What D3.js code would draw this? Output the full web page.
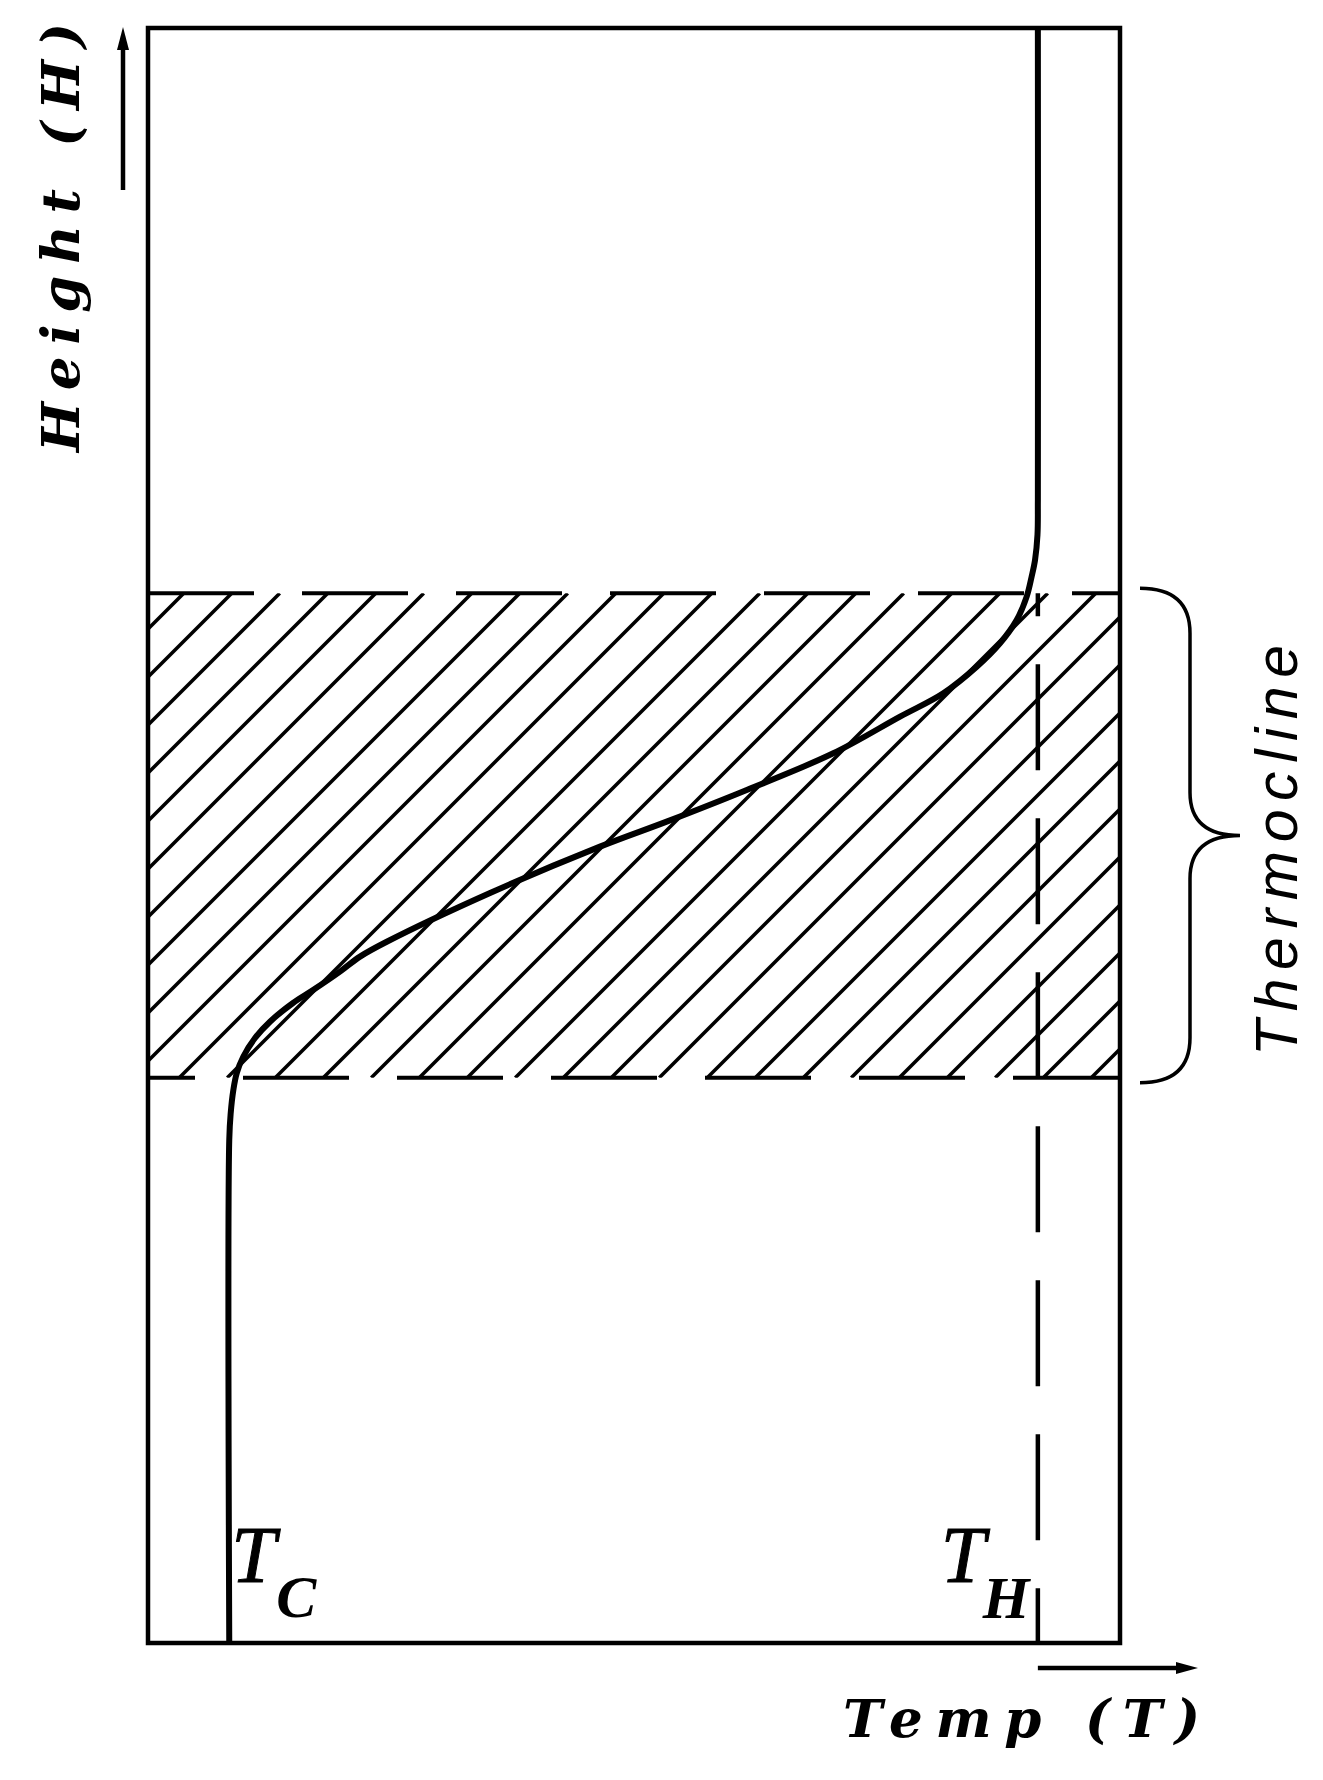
<!DOCTYPE html>
<html>

<head>
  <meta charset="utf8">
  <script src="https://d3js.org/d3.v7.min.js"></script>
  <style>
    body {
      margin: 0;
      background: #fff;
    }

    .frame {
      fill: none;
      stroke: #000;
      stroke-width: 4.5;
    }

    .hatch {
      stroke: #000;
      stroke-width: 3.5;
    }

    .band-edge {
      stroke: #000;
      stroke-width: 4;
      stroke-dasharray: 106, 48;
    }

    .hot-line {
      stroke: #000;
      stroke-width: 4.5;
      stroke-dasharray: 106, 48;
      stroke-dashoffset: 83;
    }

    .profile {
      fill: none;
      stroke: #000;
      stroke-width: 6;
    }

    .brace {
      fill: none;
      stroke: #000;
      stroke-width: 3.5;
    }

    .arrow {
      stroke: #000;
      stroke-width: 4.5;
    }

    .axis-label {
      font-family: "DejaVu Serif", serif;
      font-weight: bold;
      font-style: italic;
      font-size: 53px;
    }

    .band-label {
      font-family: "Liberation Sans", Arial, sans-serif;
      font-style: italic;
      font-size: 59px;
    }

    .temp-main {
      font-family: "Liberation Serif", serif;
      font-style: italic;
      font-size: 80px;
      stroke: #000;
      stroke-width: 1;
    }

    .temp-sub {
      font-family: "Liberation Serif", serif;
      font-weight: bold;
      font-style: italic;
      font-size: 60px;
    }
  </style>
</head>

<body>
  <svg id="chart" width="1323" height="1780"></svg>

  <script>
    // temperature profile through the tank (percent of the temperature / height span)
    var profileTemp = [8.36, 8.36, 8.51, 8.78, 9.13, 9.80, 11.01, 12.55, 14.92, 16.98, 19.75, 21.81, 24.56,
      35.19, 46.50, 53.36, 61.60, 70.50, 77.37, 81.82, 85.26, 87.65, 89.37, 90.40, 90.91, 91.26, 91.51, 91.55, 91.55];
    var profileHeight = [0, 31.15, 32.82, 34.24, 35.29, 36.30, 37.46, 38.47, 39.63, 40.43, 41.57, 42.50, 43.42,
      46.44, 49.31, 50.86, 52.82, 55.09, 57.36, 58.81, 60.45, 61.90, 63.34, 64.79, 66.03, 67.06, 68.61, 70.8, 100];

    var thermocline = [35, 65];
    var coldTemp = 8.36;
    var hotTemp = 91.55;

    var axisLabels = ['Height (H)', 'Temp (T)'];
    var bandLabel = 'Thermocline';
    var endLabels = ['T', 'C', 'H'];

    var chart = d3.select('#chart');

    var x = d3.scaleLinear().domain([0, 100]).range([148, 1120]);
    var y = d3.scaleLinear().domain([0, 100]).range([1643, 28]);

    var bandTop = y(thermocline[1]);
    var bandBottom = y(thermocline[0]);

    chart.append('clipPath')
      .attr('id', 'band-clip')
      .append('rect')
      .attr('x', x(0))
      .attr('y', bandTop)
      .attr('width', x(100) - x(0))
      .attr('height', bandBottom - bandTop);

    // diagonal hatching of the thermocline layer
    chart.append('g')
      .attr('clip-path', 'url(#band-clip)')
      .selectAll('line')
      .data(d3.range(729, 2260, 48))
      .join('line')
      .attr('class', 'hatch')
      .attr('x1', (c) => c - bandBottom)
      .attr('y1', bandBottom)
      .attr('x2', (c) => c - bandTop)
      .attr('y2', bandTop);

    chart.append('line')
      .attr('class', 'band-edge')
      .attr('x1', x(0)).attr('x2', x(100))
      .attr('y1', bandTop).attr('y2', bandTop);

    chart.append('line')
      .attr('class', 'band-edge')
      .style('stroke-dashoffset', 59)
      .attr('x1', x(0)).attr('x2', x(100))
      .attr('y1', bandBottom).attr('y2', bandBottom);

    chart.append('line')
      .attr('class', 'hot-line')
      .attr('x1', x(hotTemp)).attr('x2', x(hotTemp))
      .attr('y1', bandTop).attr('y2', y(0));

    chart.append('rect')
      .attr('class', 'frame')
      .attr('x', x(0))
      .attr('y', y(100))
      .attr('width', x(100) - x(0))
      .attr('height', y(0) - y(100));

    chart.append('path')
      .datum(d3.zip(profileTemp, profileHeight))
      .attr('class', 'profile')
      .attr('d', d3.line()
        .x((d) => x(d[0]))
        .y((d) => y(d[1]))
        .curve(d3.curveCatmullRom.alpha(0.5)));

    // brace marking the thermocline
    var bx = x(100) + 20;
    var mid = (bandTop + bandBottom) / 2;
    chart.append('path')
      .attr('class', 'brace')
      .attr('d', 'M' + bx + ',' + (bandTop - 5) +
        ' Q' + (bx + 50) + ',' + (bandTop - 5) + ' ' + (bx + 50) + ',' + (bandTop + 40) +
        ' L' + (bx + 50) + ',' + (mid - 43) +
        ' Q' + (bx + 50) + ',' + mid + ' ' + (bx + 100) + ',' + mid +
        ' Q' + (bx + 50) + ',' + mid + ' ' + (bx + 50) + ',' + (mid + 43) +
        ' L' + (bx + 50) + ',' + (bandBottom - 40) +
        ' Q' + (bx + 50) + ',' + (bandBottom + 5) + ' ' + bx + ',' + (bandBottom + 5));

    chart.append('text')
      .attr('class', 'band-label')
      .attr('transform', 'translate(' + (x(100) + 177) + ',' + 1056 + ') rotate(-90)')
      .attr('textLength', 411)
      .attr('lengthAdjust', 'spacing')
      .text(bandLabel);

    // axis arrows
    var ax = x(0) - 25;
    chart.append('line')
      .attr('class', 'arrow')
      .attr('x1', ax).attr('x2', ax)
      .attr('y1', 190).attr('y2', 45);
    chart.append('path')
      .attr('d', 'M' + ax + ',27 L' + (ax - 6) + ',50 L' + (ax + 6) + ',50 Z');

    var ay = y(0) + 25;
    chart.append('line')
      .attr('class', 'arrow')
      .attr('x1', x(hotTemp)).attr('x2', 1180)
      .attr('y1', ay).attr('y2', ay);
    chart.append('path')
      .attr('d', 'M1198,' + ay + ' L1176,' + (ay - 6) + ' L1176,' + (ay + 6) + ' Z');

    chart.append('text')
      .attr('class', 'axis-label')
      .attr('transform', 'translate(79,452) rotate(-90)')
      .attr('textLength', 429)
      .attr('lengthAdjust', 'spacing')
      .text(axisLabels[0]);

    chart.append('text')
      .attr('class', 'axis-label')
      .attr('x', 843)
      .attr('y', 1737)
      .attr('textLength', 357)
      .attr('lengthAdjust', 'spacing')
      .text(axisLabels[1]);

    // end temperatures
    chart.append('text').attr('class', 'temp-main')
      .attr('x', x(coldTemp) + 2).attr('y', 1582).text(endLabels[0]);
    chart.append('text').attr('class', 'temp-sub')
      .attr('x', x(coldTemp) + 47).attr('y', 1617).text(endLabels[1]);
    chart.append('text').attr('class', 'temp-main')
      .attr('x', x(hotTemp) - 97).attr('y', 1582).text(endLabels[0]);
    chart.append('text').attr('class', 'temp-sub')
      .attr('x', x(hotTemp) - 55).attr('y', 1618).text(endLabels[2]);
  </script>
</body>

</html>
